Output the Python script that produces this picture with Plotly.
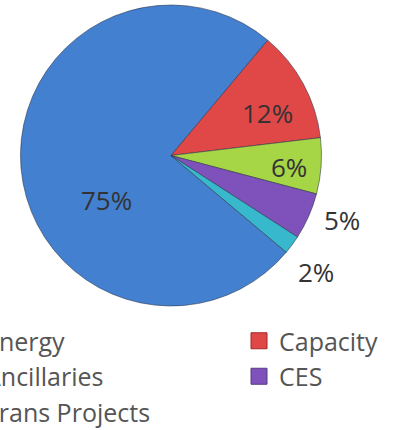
import math
import plotly.graph_objects as go

# Share of spend by category (percent)
categories = ["Energy", "Capacity", "Ancillaries", "CES", "Trans Projects"]
shares = [75, 12, 6, 5, 2]
colors = ["#4380D0", "#E04848", "#A6D646", "#7E52BA", "#38B8CC"]
edge_colors = ["#2E5E9E", "#A02828", "#7A9E2E", "#573A85", "#23828F"]

# legend columns
left_col = ["Energy", "Ancillaries", "Trans Projects"]
right_col = ["Capacity", "CES"]

W, H = 397, 430
START = 130  # degrees clockwise from 12 o'clock where the first slice begins

# pie placement in pixels
pie_left, pie_right, pie_top, pie_bottom = 20, 322, 5, 306
cx = (pie_left + pie_right) / 2
cy = (pie_top + pie_bottom) / 2
radius = min(pie_right - pie_left, pie_bottom - pie_top) / 2

fig = go.Figure()
fig.add_trace(go.Pie(
    labels=categories,
    values=shares,
    sort=False,
    direction="clockwise",
    rotation=START,
    marker=dict(colors=colors, line=dict(color="rgba(40,50,70,0.55)", width=1)),
    textinfo="none",
    hoverinfo="label+percent",
    showlegend=False,
    domain=dict(x=[pie_left / W, pie_right / W], y=[1 - pie_bottom / H, 1 - pie_top / H]),
))

# percentage labels placed along each slice's mid-angle
label_radius = [0.52, 0.70, 0.785, 1.217, 1.24]
angle_nudge = [-30, 4.7, 1.6, -3.2, 2.4]
total = sum(shares)
acc = 0.0
for i, v in enumerate(shares):
    mid = START + (acc + v / 2) / total * 360 + angle_nudge[i]
    acc += v
    t = math.radians(mid)
    px = cx + label_radius[i] * radius * math.sin(t)
    py = cy - label_radius[i] * radius * math.cos(t)
    fig.add_annotation(
        x=px / W, y=1 - py / H, xref="paper", yref="paper",
        text=f"{round(v / total * 100)}%", showarrow=False,
        font=dict(family="Open Sans", size=26, color="#333333"),
        xanchor="center", yanchor="middle",
    )

# legend entries as square markers split into two columns
for name, col, edge in zip(categories, colors, edge_colors):
    fig.add_trace(go.Scatter(
        x=[None], y=[None], mode="markers", name=name,
        marker=dict(symbol="square", size=16, color=col, line=dict(color=edge, width=1)),
        legend="legend" if name in left_col else "legend2",
        hoverinfo="skip",
    ))

legend_font = dict(family="Open Sans", size=25, color="#555555")
fig.update_layout(
    width=W, height=H,
    margin=dict(l=0, r=0, t=0, b=0, autoexpand=False),
    paper_bgcolor="white", plot_bgcolor="white",
    xaxis=dict(visible=False), yaxis=dict(visible=False),
    legend=dict(x=-55 / W, y=1 - 318 / H, xanchor="left", yanchor="top",
                font=legend_font, bgcolor="rgba(0,0,0,0)", traceorder="normal",
                itemclick=False, itemdoubleclick=False),
    legend2=dict(x=239 / W, y=1 - 318 / H, xanchor="left", yanchor="top",
                 font=legend_font, bgcolor="rgba(0,0,0,0)", traceorder="normal",
                 itemclick=False, itemdoubleclick=False),
)

fig.write_html("out.html")
